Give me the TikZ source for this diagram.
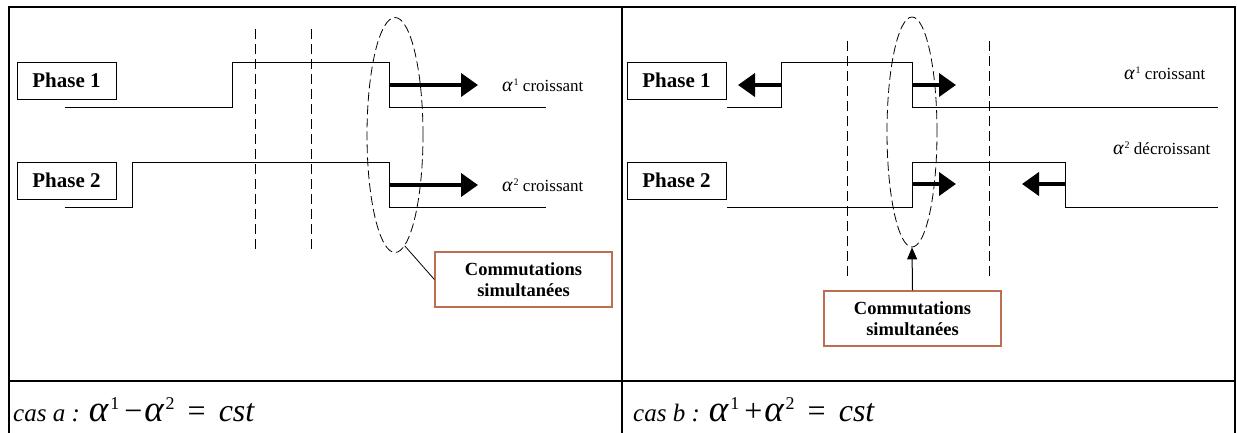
\documentclass[tikz,border=0pt]{standalone}
\usepackage{fontspec}
\setmainfont{Liberation Serif}
\usetikzlibrary{arrows.meta,shapes.geometric}
\definecolor{commcol}{RGB}{190,110,80}
\newcommand\alp[1]{{\fontsize{20}{20}\selectfont\itshape α}\hspace{1pt}\raisebox{6pt}{\fontsize{10}{10}\selectfont\upshape #1}}
\newcommand\bigalp[1]{{\fontsize{37}{37}\selectfont\itshape α}\hspace{2pt}\raisebox{12pt}{\fontsize{18}{18}\selectfont\upshape #1}}
\newcommand\eqpart[1]{\bigalp{1}\hspace{5pt}{\fontsize{32}{32}\selectfont\upshape #1}\hspace{2pt}\bigalp{2}\hspace{13pt}{\fontsize{32}{32}\selectfont\upshape =}\hspace{13pt}{\fontsize{32}{32}\selectfont\itshape cst}}
\begin{document}
\begin{tikzpicture}[x=1pt,y=-1pt,
 frame/.style={line width=2pt},
 sig/.style={line width=1pt},
 vdash/.style={line width=0.9pt, dash pattern=on 10pt off 5pt},
 edash/.style={draw, ellipse, line width=0.8pt, dash pattern=on 9pt off 4pt, inner sep=0pt},
 phasebox/.style={draw, line width=1pt, minimum width=99pt, minimum height=37pt, inner sep=0pt, font=\fontsize{21}{24}\selectfont\bfseries},
 commbox/.style={draw=commcol, line width=1.2pt, minimum width=177pt, minimum height=55pt, align=center, inner sep=0pt, font=\fontsize{18.5}{21}\selectfont\bfseries},
 bigarrow/.style={line width=4pt, -{Triangle[length=17pt,width=23pt]}},
 lbl/.style={anchor=west, inner sep=0pt, font=\fontsize{17}{19}\selectfont},
 castxt/.style={anchor=base west, inner sep=0pt, font=\fontsize{25}{30}\selectfont}
]
\useasboundingbox (0,0) rectangle (1237,432);
% table frame
\draw[frame] (9,440) -- (9,7) -- (1235,7) -- (1235,440);
\draw[frame] (622,7) -- (622,440);
\draw[frame] (9,381) -- (1235,381);

% ---------- panel a ----------
\node[phasebox] (p1a) at (66.5,80.5) {Phase 1};
\node[phasebox] (p2a) at (66.5,180.5) {Phase 2};
\draw[sig] (65,107) -- (232,107) -- (232,62) -- (389,62) -- (389,107) -- (546,107);
\draw[sig] (65,207) -- (132,207) -- (132,162) -- (389,162) -- (389,207) -- (546,207);
\draw[vdash] (255,29) -- (255,249);
\draw[vdash] (311,29) -- (311,249);
\node[edash, minimum width=56pt, minimum height=235pt] (ellA) at (395,135) {};
\coordinate (a1s) at (389,85); \coordinate (a1e) at (478,85);
\coordinate (a2s) at (389,185); \coordinate (a2e) at (478,185);
\draw[bigarrow] (a1s) -- (a1e);
\draw[bigarrow] (a2s) -- (a2e);
\node[lbl] (l1a) at (502,85) {\alp{1} croissant};
\node[lbl] (l2a) at (502,185) {\alp{2} croissant};
\node[commbox] (commA) at (523.5,279.5) {Commutations\\simultanées};
\draw[line width=0.8pt] (ellA.-85) -- (commA.west);
\node[castxt] (casA) at (13,421) {{\itshape cas a :}\hspace{9pt}\eqpart{−}};

% ---------- panel b ----------
\node[phasebox] (p1b) at (676.5,80.5) {Phase 1};
\node[phasebox] (p2b) at (676.5,180.5) {Phase 2};
\draw[sig] (727,107) -- (781,107) -- (781,62) -- (912,62) -- (912,107) -- (1218,107);
\draw[sig] (727,207) -- (912,207) -- (912,162) -- (1065,162) -- (1065,207) -- (1218,207);
\draw[vdash] (847,41) -- (847,280);
\draw[vdash] (989,41) -- (989,280);
\node[edash, minimum width=50pt, minimum height=230pt] (ellB) at (912,132) {};
\coordinate (b1s) at (781,85); \coordinate (b1e) at (738,85);
\coordinate (b2s) at (912,85); \coordinate (b2e) at (956,85);
\coordinate (b3s) at (912,184); \coordinate (b3e) at (956,184);
\coordinate (b4s) at (1065,184); \coordinate (b4e) at (1022,184);
\draw[bigarrow] (b1s) -- (b1e);
\draw[bigarrow] (b2s) -- (b2e);
\draw[bigarrow] (b3s) -- (b3e);
\draw[bigarrow] (b4s) -- (b4e);
\node[lbl] (l1b) at (1124,73) {\alp{1} croissant};
\node[lbl] (l2b) at (1113,148) {\alp{2} décroissant};
\node[commbox] (commB) at (912.5,318.5) {Commutations\\simultanées};
\draw[line width=1pt, -{Triangle[length=12pt,width=10pt]}] (commB.north) -- (ellB.south);
\node[castxt] (casB) at (633,421) {{\itshape cas b :}\hspace{9pt}\eqpart{+}};
\end{tikzpicture}
\end{document}
